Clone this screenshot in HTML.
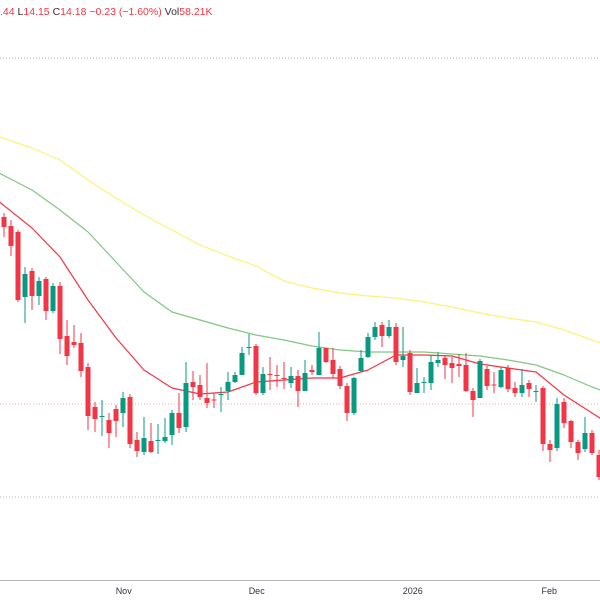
<!DOCTYPE html>
<html><head><meta charset="utf-8"><style>
html,body{margin:0;padding:0;background:#fff;width:600px;height:600px;overflow:hidden;font-family:"Liberation Sans",sans-serif}
</style></head><body>
<svg id="chart" width="600" height="600" xmlns="http://www.w3.org/2000/svg">
<rect width="600" height="600" fill="#fff"/>
<line x1="0" y1="58" x2="600" y2="58" stroke="#b2b5be" stroke-dasharray="1,2"/>
<line x1="0" y1="404" x2="600" y2="404" stroke="#f7a9b0" stroke-dasharray="1,2"/>
<line x1="0" y1="497" x2="600" y2="497" stroke="#b2b5be" stroke-dasharray="1,2"/>
<line x1="0" y1="580.5" x2="600" y2="580.5" stroke="#b2b5be"/>
<g id="xlabels" font-size="9" fill="#333" text-anchor="middle"></g>
<g id="mas"></g>
<g id="candles"></g>
<text x="0" y="15" font-size="10.5"><tspan fill="#f23645">.44</tspan><tspan fill="#333"> L</tspan><tspan fill="#f23645">14.15</tspan><tspan fill="#333"> C</tspan><tspan fill="#f23645">14.18 −0.23 (−1.60%)</tspan><tspan fill="#333"> Vol</tspan><tspan fill="#f23645">58.21K</tspan></text>
</svg>
<script>
const opens=[38.3,37.4,36.8,30.3,32.9,30.4,32.1,28.9,31.4,26.4,25.8,25.7,23.3,19.3,18.35,18.0,19.1,18.7,20.3,16.0,14.8,15.9,15.95,15.9,16.5,18.7,17.3,21.8,21.5,20.2,20.05,20.55,20.9,21.8,22.5,25.25,25.4,20.7,22.6,22.5,22.2,21.7,22.4,20.9,23.0,22.5,25.2,24.0,23.1,21.4,18.7,22.9,24.3,26.3,27.5,26.4,27.3,24.0,24.7,20.7,21.75,21.7,23.7,24.2,23.7,23.6,23.5,20.9,20.2,23.1,21.55,21.3,23.2,21.2,20.7,21.7,20.85,21.2,15.6,15.2,19.8,17.9,15.8,15.1,16.7,14.5];
const closes=[37.3,35.4,30.0,32.6,30.4,31.9,28.9,31.4,26.1,24.4,25.5,22.9,18.4,18.1,18.4,16.7,17.9,20.2,15.6,14.9,16.2,14.8,16.0,16.3,18.7,17.2,21.7,21.3,20.3,19.7,20.0,20.6,21.8,22.5,24.7,25.3,20.7,22.6,22.5,22.4,22.1,22.4,20.9,22.7,22.8,25.2,23.8,22.6,21.4,18.7,22.2,24.2,26.3,27.3,26.4,27.3,23.8,24.4,20.8,21.7,21.8,23.8,24.0,23.5,23.2,23.4,20.9,20.0,23.9,21.4,21.5,23.0,21.1,20.7,21.5,21.1,20.9,15.6,15.0,19.6,17.7,15.8,14.7,16.7,14.7,12.3];
const highs=[38.7,38.0,37.0,33.3,33.2,32.3,32.3,31.7,31.8,28.0,27.5,26.7,23.7,19.8,20.0,18.7,19.5,20.8,20.6,16.8,18.3,17.7,17.6,18.2,19.0,20.7,23.8,22.9,22.5,23.7,20.7,21.3,22.8,22.8,25.3,26.6,25.6,23.3,24.3,23.5,23.8,23.3,23.0,24.0,23.5,26.8,25.2,25.2,23.4,21.7,22.3,25.0,26.7,27.8,27.8,28.0,27.7,27.3,25.0,23.2,22.3,24.5,24.8,24.5,24.3,24.6,24.7,21.2,24.1,23.4,22.8,23.3,23.5,21.8,23.1,22.0,21.5,21.4,16.0,20.2,20.2,18.0,16.0,18.3,17.0,15.0];
const lows=[36.3,34.4,29.8,27.7,29.0,29.5,28.0,28.7,24.6,23.5,25.2,22.3,17.0,16.8,16.4,15.2,16.3,17.3,15.2,14.3,14.5,14.7,14.6,15.7,15.5,16.7,16.8,20.0,20.0,19.2,19.2,18.8,20.0,21.7,22.5,24.5,20.5,20.5,21.0,21.3,21.1,21.2,19.3,20.9,22.5,22.5,23.7,22.2,21.1,17.9,18.5,22.8,24.2,26.0,25.3,26.2,23.5,23.3,20.5,20.7,20.7,21.0,23.3,22.1,21.7,22.3,20.8,18.3,20.2,21.0,20.7,21.2,20.8,20.3,20.3,20.3,19.8,14.9,13.8,14.9,17.2,15.2,14.0,14.8,14.5,12.0];
const maIdx=[-1,4,8,12,16,20,24,28,32,36,40,44,48,52,56,60,64,68,72,76,80,84,86];
const maFast=[40.0,37.2,34.3,30.0,26.2,23.0,21.2,20.6,20.8,21.8,22.0,22.2,22.2,23.0,24.5,24.5,24.4,23.6,23.2,22.8,20.5,18.7,17.8];
const maMid=[42.8,41.0,39.0,36.8,33.8,30.8,28.8,28.0,27.2,26.5,26.0,25.4,25.0,24.8,24.8,24.8,24.6,24.4,24.0,23.5,22.5,21.3,20.8];
const maSlow=[46.4,45.2,44.0,42.0,40.2,38.5,37.0,35.5,34.4,33.4,31.9,31.2,30.7,30.4,30.2,29.8,29.3,28.7,28.2,27.8,27.0,26.0,25.5];
const xTickLabels=["Nov","Dec","2026","Feb"];
const xTickIdx=[17.1,36.1,58.4,77.9];

function xScale(i){return 4+i*7;}
function yScale(p){return (60-p)*10;}
const NS="http://www.w3.org/2000/svg";
const cg=document.getElementById('candles');
for(let i=0;i<opens.length;i++){
  const up=closes[i]>=opens[i];
  const col=up?'#089981':'#f23645';
  const x=xScale(i);
  const w=document.createElementNS(NS,'line');
  
  
  w.setAttribute('x1',x);w.setAttribute('x2',x);
  w.setAttribute('y1',yScale(highs[i]));w.setAttribute('y2',yScale(lows[i]));
  w.setAttribute('stroke',col);w.setAttribute('stroke-width','1');
  cg.appendChild(w);
  const b=document.createElementNS(NS,'rect');
  
  
  const y1=yScale(Math.max(opens[i],closes[i])),y2=yScale(Math.min(opens[i],closes[i]));
  b.setAttribute('x',x-2.5);b.setAttribute('width',5);
  b.setAttribute('y',y1);b.setAttribute('height',Math.max(1,y2-y1));
  b.setAttribute('fill',col);
  cg.appendChild(b);
}
const mg=document.getElementById('mas');
[[maSlow,'#fff176','ma-slow-line'],[maMid,'#81c784','ma-mid-line'],[maFast,'#f23645','ma-fast-line']].forEach(function(s){
  const p=document.createElementNS(NS,'polyline');
  
  
  p.setAttribute('points',maIdx.map(function(ix,k){return xScale(ix)+','+yScale(s[0][k]);}).join(' '));
  p.setAttribute('fill','none');p.setAttribute('stroke',s[1]);p.setAttribute('stroke-width','1.2');
  p.setAttribute('stroke-linejoin','round');
  mg.appendChild(p);
});
const xg=document.getElementById('xlabels');
xTickLabels.forEach(function(t,k){
  const tx=document.createElementNS(NS,'text');
  
  
  tx.setAttribute('x',xScale(xTickIdx[k]));tx.setAttribute('y',594);
  tx.textContent=t;xg.appendChild(tx);
});
</script>
</body></html>
